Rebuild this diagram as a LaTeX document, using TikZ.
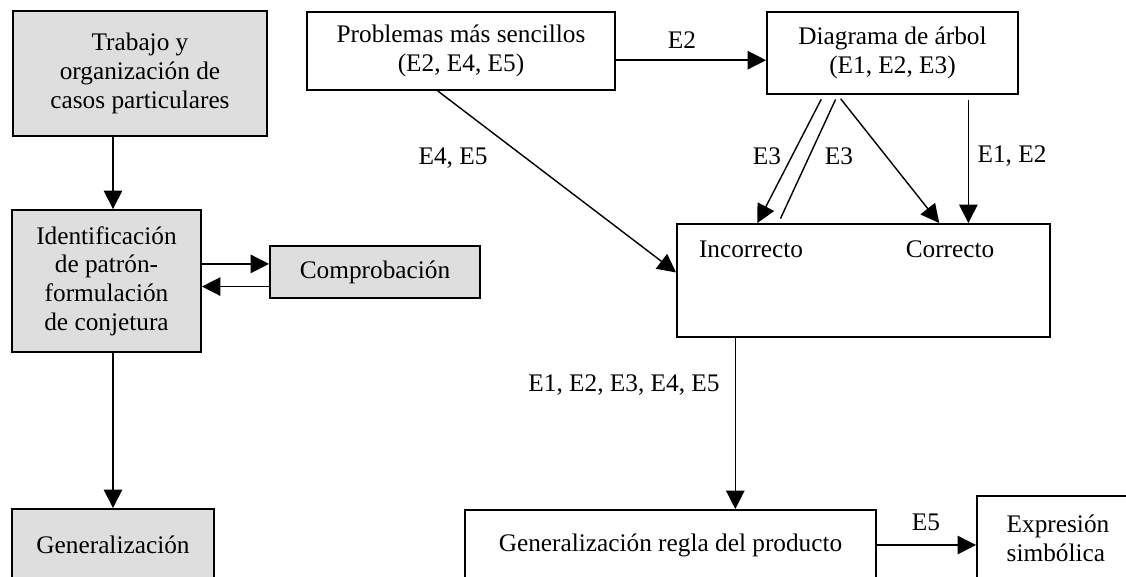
\documentclass[tikz,border=0pt]{standalone}
\usepackage{tikz}
\usepackage{fontspec}
\setmainfont{Liberation Serif}
\usepackage{xcolor}
\usetikzlibrary{arrows.meta, calc, positioning}
\definecolor{gr}{HTML}{DEDEDE}

\begin{document}
\begin{tikzpicture}[
            -{Triangle[length=10.5pt, width=10.5pt]}, % arrow head style
            x = 0.02cm, y = -0.02cm, % one unit is one pixel
            thick, % line style
            every node/.style = {font = \fontsize{14.4}{16.4}\selectfont}
        ]

        \tikzstyle{box}=[
            draw = black,
            line width = 1.1pt,
            align = center,
            inner sep = 0pt
        ]
        \tikzstyle{lbl}=[inner sep = 0pt]

        \useasboundingbox (0,0) rectangle (1126,576);
        \clip (0,0) rectangle (1126,576);

        % left column
        \node[box, fill = gr, minimum width = 5.08cm, minimum height = 2.5cm] (trab) [at={(140,73.5)}] {Trabajo y\\organización de\\casos particulares};
        \node[box, fill = gr, minimum width = 3.78cm, minimum height = 2.84cm] (ident) [at={(106.5,281)}] {Identificación\\de patrón-\\formulación\\de conjetura};
        \node[box, fill = gr, minimum width = 4.2cm, minimum height = 1.04cm] (compr) [at={(375,272)}] {Comprobación};
        \node[box, fill = gr, minimum width = 4.04cm, minimum height = 1.44cm] (gen) [at={(113,545)}] {Generalización};

        % right part
        \node[box, minimum width = 6.16cm, minimum height = 1.56cm] (probl) [at={(461,51)}] {Problemas más sencillos\\(E2, E4, E5)};
        \node[box, minimum width = 5.02cm, minimum height = 1.64cm] (diag) [at={(892.5,53)}] {Diagrama de árbol\\(E1, E2, E3)};
        \node[box, minimum width = 7.46cm, minimum height = 2.26cm] (res) [at={(863.5,280.5)}] {};
        \node (incor) [at={(751,249)}] {Incorrecto};
        \node (corr) [at={(950,249)}] {Correcto};
        \node[box, minimum width = 8.22cm, minimum height = 1.4cm] (regla) [at={(670.5,545)}] {Generalización regla del producto};
        \node[box, align = left, minimum width = 3.24cm, minimum height = 1.68cm] (expr) [at={(1058,538)}] {Expresión\\simbólica};

        % arrows, left
        \draw (gen.north |- trab.south) -- (gen.north |- ident.north);
        \draw (gen.north |- ident.south) -- (gen.north);
        \coordinate (c1) at ($(compr.north west)!0.35!(compr.south west)$);
        \coordinate (c2) at ($(compr.north west)!0.77!(compr.south west)$);
        \draw (ident.east |- c1) -- (c1);
        \draw (c2) -- (ident.east |- c2);

        % arrows, right
        \coordinate (p1) at ($(probl.north east)!0.615!(probl.south east)$);
        \draw (p1) -- (p1 -| diag.west);
        \draw ($(probl.south west)!0.425!(probl.south east)$) -- ($(res.north west)!0.43!(res.south west)$);
        \draw[shorten <= 2.8pt] ($(diag.south west)!0.227!(diag.south east)$) -- ($(res.north west)!0.217!(res.north east)$);
        \draw[-, shorten <= 2.8pt, shorten >= 2.8pt] ($(diag.south west)!0.283!(diag.south east)$) -- ($(res.north west)!0.273!(res.north east)$);
        \draw[shorten <= 2.8pt] ($(diag.south west)!0.283!(diag.south east)$) -- ($(res.north west)!0.702!(res.north east)$);
        \draw[shorten <= 2.8pt] ($(diag.south west)!0.8!(diag.south east)$) coordinate (d4) -- (d4 |- res.north);
        \draw ($(res.south west)!0.158!(res.south east)$) coordinate (r1) -- (r1 |- regla.north);
        \draw (regla.east) -- (regla.east -| expr.west);

        % labels
        \node[lbl] (le2) [at={(682,40)}] {E2};
        \node[lbl] (le45) [at={(453,158)}] {E4, E5};
        \node[lbl] (le3a) [at={(767,156)}] {E3};
        \node[lbl] (le3b) [at={(839,156)}] {E3};
        \node[lbl] (le12) [at={(1012,156)}] {E1, E2};
        \node[lbl] (lall) [at={(624,385)}] {E1, E2, E3, E4, E5};
        \node[lbl] (le5) [at={(926,522)}] {E5};
    \end{tikzpicture}
\end{document}
